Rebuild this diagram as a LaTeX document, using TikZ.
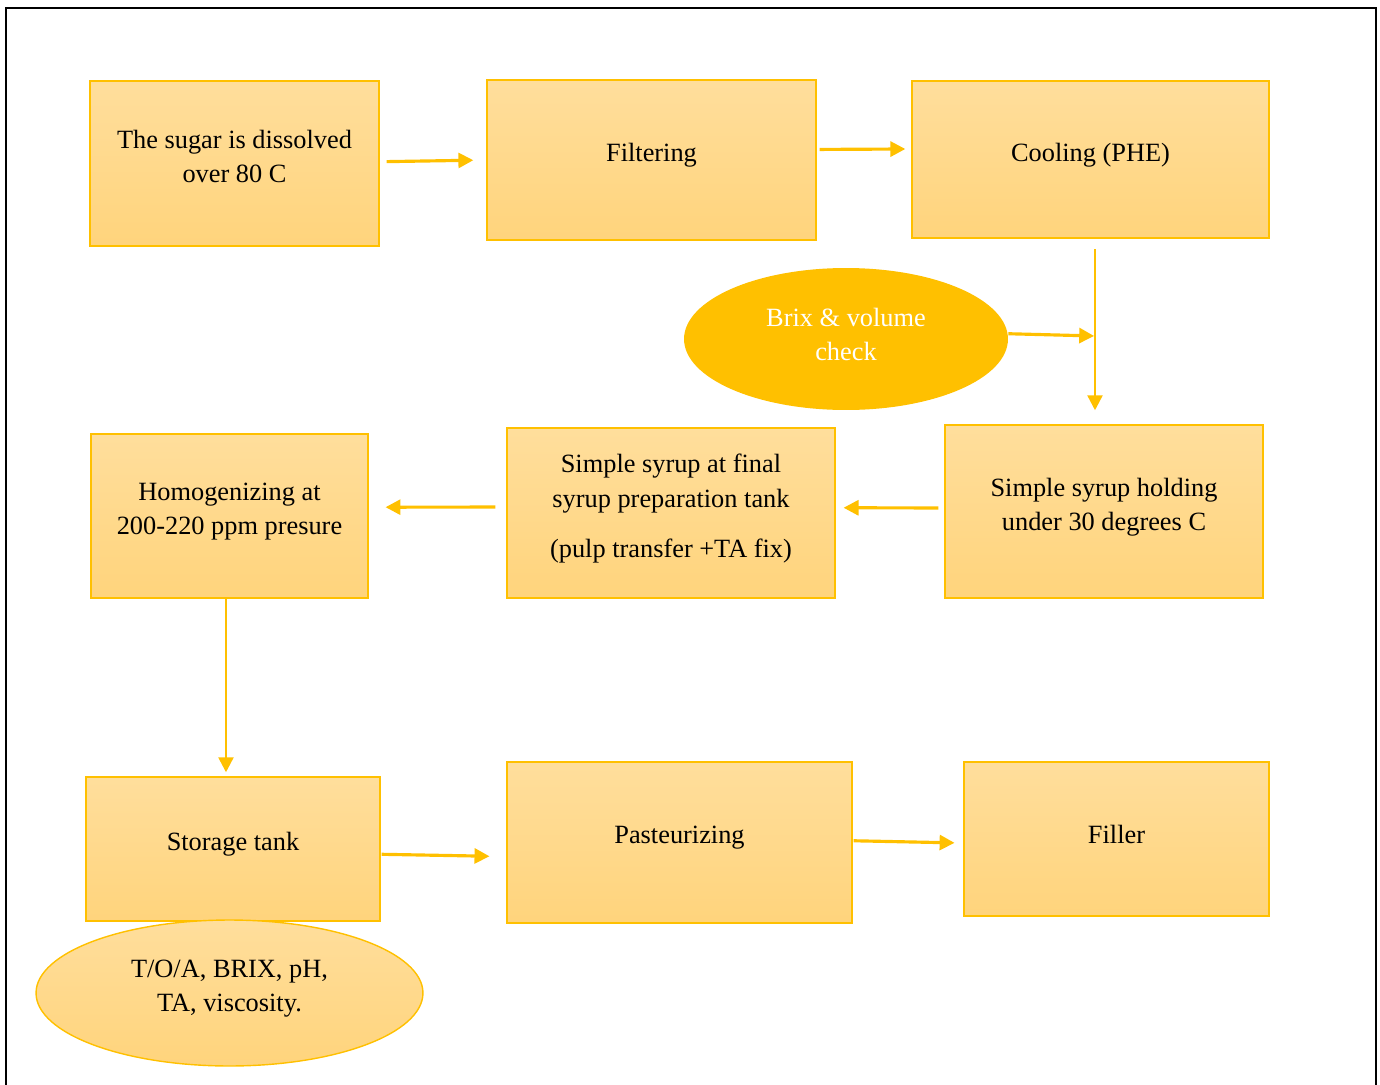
\documentclass[tikz,border=0pt]{standalone}
\usepackage{fontspec}
\setmainfont{Liberation Serif}
\usetikzlibrary{arrows.meta,shapes.geometric}

\definecolor{gold}{HTML}{FFC000}
\definecolor{boxtop}{RGB}{255,222,156}
\definecolor{boxbot}{RGB}{255,212,124}

\begin{document}
\begin{tikzpicture}[x=0.02cm,y=-0.02cm,
    font=\fontsize{15}{19.5}\selectfont,
    box/.style={rectangle,draw=gold,line width=0.8pt,top color=boxtop,bottom color=boxbot,inner sep=0pt},
    oval/.style={ellipse,inner sep=0pt},
    txt/.style={align=center,yshift=2.5pt,inner sep=0pt},
    flow/.style={draw=gold,line width=1.8pt,-{Triangle[length=8.5pt,width=8.5pt]}}]

  % Page frame
  \useasboundingbox (0,0) rectangle (1380,1085);
  \draw[line width=1.2pt] (6,1085) -- (6,8) -- (1376,8) -- (1376,1085);

  % Top row
  \node[box,minimum width=5.78cm,minimum height=3.30cm,
    label={[txt,yshift=1.5pt]center:The sugar is dissolved\\over 80 C}] (sugar) at (234.5,163.5) {};
  \node[box,minimum width=6.58cm,minimum height=3.20cm,
    label={[txt]center:Filtering}] (filt) at (651.5,160) {};
  \node[box,minimum width=7.14cm,minimum height=3.14cm,
    label={[txt]center:Cooling (PHE)}] (cool) at (1090.5,159.5) {};

  % Check after cooling
  \node[oval,fill=gold,minimum width=6.48cm,minimum height=2.84cm,
    label={[txt,text=white]center:Brix \& volume\\check}] (brix) at (846,339) {};
  \coordinate (jn) at (1095,336);

  % Middle row
  \node[box,minimum width=6.36cm,minimum height=3.46cm,
    label={[txt]center:Simple syrup holding\\under 30 degrees C}] (hold) at (1104,511.5) {};
  \node[box,minimum width=6.56cm,minimum height=3.40cm,
    label={[txt]center:Simple syrup at final\\syrup preparation tank\\[9pt](pulp transfer +TA fix)}] (prep) at (671,513) {};
  \node[box,minimum width=5.54cm,minimum height=3.28cm,
    label={[txt]center:Homogenizing at\\200-220 ppm presure}] (homog) at (229.5,516) {};

  % Bottom row
  \node[box,minimum width=5.88cm,minimum height=2.88cm,
    label={[txt]center:Storage tank}] (store) at (233,849) {};
  \node[box,minimum width=6.90cm,minimum height=3.22cm,
    label={[txt]center:Pasteurizing}] (past) at (679.5,842.5) {};
  \node[box,minimum width=6.10cm,minimum height=3.08cm,
    label={[txt]center:Filler}] (fill) at (1116.5,839) {};

  % Quality check on storage
  \node[oval,draw=gold,line width=0.8pt,top color=boxtop,bottom color=boxbot,
    minimum width=7.74cm,minimum height=2.92cm,
    label={[txt]center:{T/O/A, BRIX, pH,\\TA, viscosity.}}] (toa) at (229.5,993) {};

  % Arrows
  \draw[flow,shorten <=4pt,shorten >=7.4pt] ([yshift=1pt]sugar.east) -- (filt.west);
  \draw[flow,shorten <=1.7pt,shorten >=3.4pt] ([yshift=6pt]filt.east) -- ([yshift=6pt]cool.west);
  \draw[flow,line width=1.4pt,shorten <=6pt,shorten >=8pt] (cool.south -| jn) -- (hold.north -| jn);
  \draw[flow,shorten >=0.5pt] ([yshift=3pt]brix.east) -- (jn);
  \draw[flow,shorten <=3.4pt,shorten >=4.5pt] ([yshift=2pt]hold.west) -- ([yshift=3pt]prep.east);
  \draw[flow,shorten <=6.2pt,shorten >=9.6pt] ([yshift=3.4pt]prep.west) -- ([yshift=5pt]homog.east);
  \draw[flow,line width=1.4pt,shorten >=2.3pt] ([xshift=-2pt]homog.south) -- ([xshift=-2pt]homog.south |- store.north);
  \draw[flow,shorten <=0.5pt,shorten >=9.6pt] ([yshift=-3pt]store.east) -- ([yshift=-8pt]past.west);
  \draw[flow,shorten <=0.5pt,shorten >=5pt] ([yshift=1pt]past.east) -- ([yshift=-2.3pt]fill.west);
\end{tikzpicture}
\end{document}
